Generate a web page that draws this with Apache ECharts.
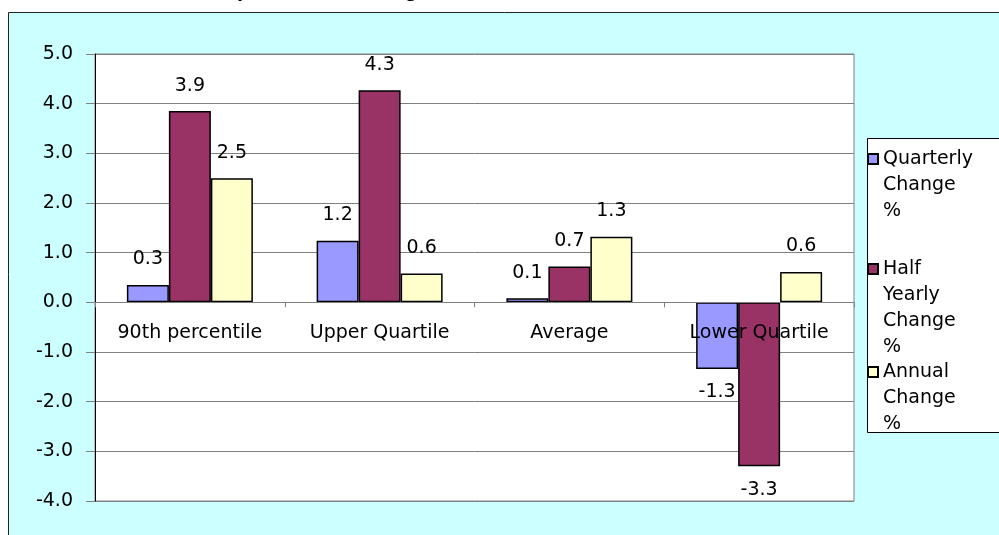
<!DOCTYPE html>
<html>
<head>
<meta charset="utf-8">
<script src="https://cdn.jsdelivr.net/npm/echarts@6/dist/echarts.min.js"></script>
<style>
html, body { margin: 0; padding: 0; background: #fff; }
#main { width: 999px; height: 535px; }
</style>
</head>
<body>
<div id="main"></div>
<script>
var categories = ['90th percentile', 'Upper Quartile', 'Average', 'Lower Quartile'];
var quarterly = [0.35, 1.24, 0.08, -1.34];
var halfYearly = [3.85, 4.27, 0.72, -3.30];
var annual = [2.50, 0.58, 1.32, 0.61];
var seriesNames = ['Quarterly Change %', 'Half Yearly Change %', 'Annual Change %'];
var legendLines = [['Quarterly', 'Change', '%'], ['Half', 'Yearly', 'Change', '%'], ['Annual', 'Change', '%']];
var colors = ['#9999FF', '#993366', '#FFFFCC'];

var font = 'DejaVu Sans';
var chart = echarts.init(document.getElementById('main'), null, {renderer: 'canvas'});

// labels above positive bars, below negative ones
function toData(arr) {
    var out = [];
    for (var i = 0; i < arr.length; i++) {
        out.push({
            value: arr[i],
            label: arr[i] < 0 ? {position: 'bottom', distance: 14} : {position: 'top', distance: 16}
        });
    }
    return out;
}

function makeSeries(name, arr, color) {
    return {
        name: name,
        type: 'bar',
        barGap: '0%',
        barCategoryGap: '33.6%',
        itemStyle: {color: color, borderColor: '#000', borderWidth: 1.5},
        label: {
            show: true,
            color: '#000',
            fontFamily: font,
            fontSize: 19,
            formatter: function (p) { return p.value.toFixed(1); }
        },
        data: toData(arr)
    };
}

// legend icon sits on the middle text line, so pad with blank lines above
var legendTops = [94, 178, 307];
var legends = [];
for (var i = 0; i < seriesNames.length; i++) {
    (function (n) {
        var pre = '';
        for (var k = 1; k < legendLines[n].length; k++) pre += '\n';
        legends.push({
            data: [seriesNames[n]],
            left: 867,
            top: legendTops[n],
            orient: 'vertical',
            padding: 0,
            itemWidth: 10,
            itemHeight: 10,
            itemGap: 0,
            icon: 'rect',
            selectedMode: false,
            formatter: function () { return pre + legendLines[n].join('\n'); },
            textStyle: {
                color: '#000',
                fontFamily: font,
                fontSize: 19,
                lineHeight: 26
            }
        });
    })(i);
}

var gridTop = 54, gridBottom = 34, yMin = -4, yMax = 5;
var plotH = 535 - gridTop - gridBottom;

var option = {
    animation: false,
    backgroundColor: '#fff',
    title: {
        text: 'Comparison of Changes',
        left: 183,
        top: -26,
        textStyle: {fontFamily: 'Liberation Sans', fontSize: 22, fontWeight: 'bold', color: '#000'}
    },
    graphic: [
        {
            type: 'rect', z: -10,
            shape: {x: 8.5, y: 12.5, width: 1100, height: 600},
            style: {fill: '#CCFFFF', stroke: '#222', lineWidth: 1}
        },
        {
            type: 'rect', z: 1,
            shape: {x: 867.5, y: 138.5, width: 200, height: 294},
            style: {fill: '#fff', stroke: '#000', lineWidth: 1}
        }
    ],
    legend: legends,
    grid: {
        left: 95, right: 145, top: gridTop, bottom: gridBottom,
        outerBoundsMode: 'none',
        containLabel: false,
        show: true,
        backgroundColor: '#fff',
        borderColor: '#808080',
        borderWidth: 1
    },
    xAxis: {
        type: 'category',
        data: categories,
        z: 5,
        offset: -plotH * (0 - yMin) / (yMax - yMin),
        axisLine: {onZero: false, lineStyle: {color: '#808080', width: 1}},
        axisTick: {show: true, length: 5, lineStyle: {color: '#808080'}},
        axisLabel: {color: '#000', fontFamily: font, fontSize: 19, margin: 21},
        splitLine: {show: false}
    },
    yAxis: {
        type: 'value',
        min: yMin,
        max: yMax,
        interval: 1,
        axisLine: {show: true, lineStyle: {color: '#000', width: 1}},
        axisTick: {show: true, length: 9, lineStyle: {color: '#808080'}},
        axisLabel: {
            color: '#000', fontFamily: font, fontSize: 19, margin: 22,
            formatter: function (v) { return v.toFixed(1); }
        },
        splitLine: {show: true, lineStyle: {color: '#808080', width: 1}}
    },
    series: [
        makeSeries(seriesNames[0], quarterly, colors[0]),
        makeSeries(seriesNames[1], halfYearly, colors[1]),
        makeSeries(seriesNames[2], annual, colors[2])
    ]
};

chart.setOption(option);
</script>
</body>
</html>
